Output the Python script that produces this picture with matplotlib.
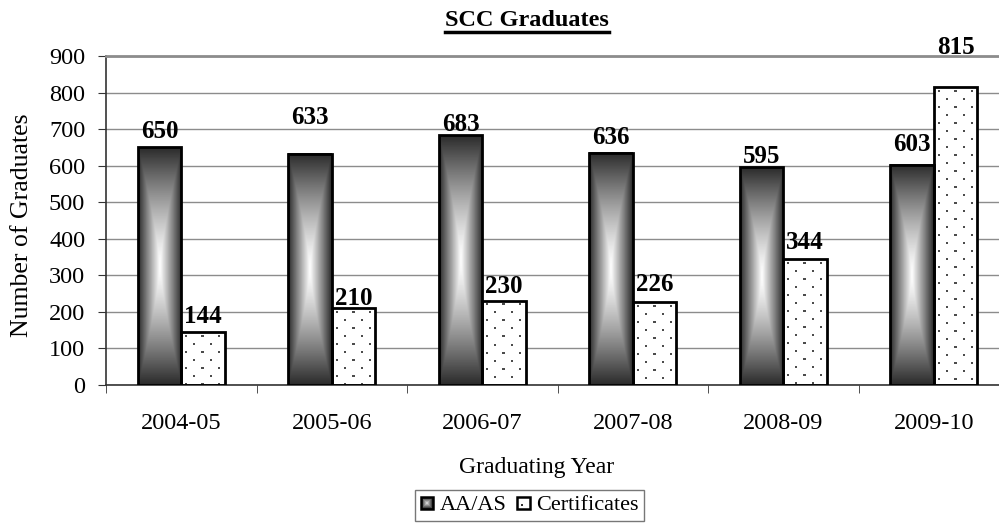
import numpy as np
import matplotlib
matplotlib.use('Agg')
import matplotlib.pyplot as plt
from matplotlib.patches import Rectangle
from matplotlib.lines import Line2D
from matplotlib.legend_handler import HandlerBase

years = ['2004-05', '2005-06', '2006-07', '2007-08', '2008-09', '2009-10']
aa_as = [650, 633, 683, 636, 595, 603]
certificates = [144, 210, 230, 226, 344, 815]

# gap (pixels) between each value label and its bar, as laid out in the original
aa_gap = [9, 30, 4, 9, 4, 14]
cert_gap = [9, 3, 8, 11, 10, 33]

plt.rcParams['font.family'] = ['Liberation Serif', 'DejaVu Serif']

W, H = 999, 529
fig = plt.figure(figsize=(W / 100, H / 100), dpi=100)
# plot area runs past the right edge, as in the original
left, bottom, top = 106, 385, 56
group = 150.5
ax = fig.add_axes([left / W, 1 - bottom / H, 6 * group / W, (bottom - top) / H])
px_x = group              # pixels per x unit
px_y = (bottom - top) / 900.0

x = np.arange(len(years))
bw = 0.289


def box_gradient():
    gy, gx = np.mgrid[-1:1:300j, -1:1:80j]
    v = np.maximum(np.abs(gx), np.abs(gy) ** 1.3)
    return 1 - v


def dot_texture(wp, hp):
    tex = np.ones((hp, wp))
    for r, yy in enumerate(range(3, hp - 1, 8)):
        start = 4 if r % 2 == 0 else 12
        for xx in range(start, wp - 1, 16):
            tex[yy:yy + 2, xx:xx + 2] = 0.3
    return tex


grad = box_gradient()
for i, v in enumerate(aa_as):
    x0 = x[i] - bw
    ax.imshow(grad, cmap='gray', vmin=-0.2, vmax=1.0, aspect='auto',
              extent=[x0, x0 + bw, 0, v], zorder=2, interpolation='bilinear')
ax.bar(x - bw / 2, aa_as, bw, facecolor='none', edgecolor='black', linewidth=2, zorder=3)

for i, v in enumerate(certificates):
    wp = int(round(bw * px_x))
    hp = int(round(v * px_y))
    ax.imshow(dot_texture(wp, hp), cmap='gray', vmin=0, vmax=1, aspect='auto',
              extent=[x[i], x[i] + bw, 0, v], zorder=2, interpolation='nearest')
ax.bar(x + bw / 2, certificates, bw, facecolor='none', edgecolor='black', linewidth=2, zorder=3)

for i in range(len(years)):
    ax.annotate(str(aa_as[i]), (x[i] - bw / 2, aa_as[i]), xytext=(0, aa_gap[i]),
                textcoords='offset pixels', ha='center', va='baseline',
                fontsize=18, fontweight='bold', zorder=4)
    ax.annotate(str(certificates[i]), (x[i] + bw / 2, certificates[i]), xytext=(0, cert_gap[i]),
                textcoords='offset pixels', ha='center', va='baseline',
                fontsize=18, fontweight='bold', zorder=4)

ax.set_xlim(-0.5, 5.5)
ax.set_ylim(0, 900)
ax.set_yticks(range(0, 901, 100))
ax.yaxis.grid(True, color='#8c8c8c', linewidth=1)
ax.set_axisbelow(True)
ax.set_xticks(x)
ax.set_xticklabels(years)
ax.set_xticks(np.arange(-0.5, 6, 1), minor=True)
ax.tick_params(axis='x', which='major', length=0, pad=20, labelsize=17.5)
ax.tick_params(axis='x', which='minor', length=6, direction='out', color='#333333')
ax.tick_params(axis='y', length=6, direction='out', labelsize=17.5, pad=9, color='#333333')
ax.spines['top'].set_color('#8c8c8c')
ax.spines['top'].set_linewidth(2)
ax.spines['right'].set_visible(False)
for s in ('left', 'bottom'):
    ax.spines[s].set_color('#333333')
    ax.spines[s].set_linewidth(1.2)

fig.text(22 / W, 1 - 225 / H, 'Number of Graduates', rotation=90, ha='center', va='center',
         fontsize=18.5)
fig.text(537 / W, 1 - 468 / H, 'Graduating Year', ha='center', va='center', fontsize=17)

title = fig.text(527 / W, 1 - 20 / H, 'SCC Graduates', ha='center', va='center', fontsize=17.5,
                 fontweight='bold')
fig.canvas.draw()
bb = title.get_window_extent()
uy = bb.y0 - 1
fig.add_artist(Line2D([bb.x0 / W, bb.x1 / W], [uy / H, uy / H], color='black', linewidth=2.5))


class GradientBox(HandlerBase):
    def create_artists(self, legend, orig, xd, yd, width, height, fontsize, trans):
        s = min(width, height)
        x0 = -xd
        y0 = -yd
        arts = []
        steps = 6
        for k in range(steps):
            f = k / steps
            g = 0.15 + 0.8 * f
            inset = s * f / 2
            arts.append(Rectangle((x0 + inset, y0 + inset), s - 2 * inset, s - 2 * inset,
                                  facecolor=(g, g, g), edgecolor='none', transform=trans))
        arts.append(Rectangle((x0, y0), s, s, facecolor='none', edgecolor='black',
                              linewidth=1.8, transform=trans))
        return arts


class DotBox(HandlerBase):
    def create_artists(self, legend, orig, xd, yd, width, height, fontsize, trans):
        s = min(width, height)
        x0 = -xd
        y0 = -yd
        box = Rectangle((x0, y0), s, s, facecolor='white', edgecolor='black',
                        linewidth=1.8, transform=trans)
        dot = Rectangle((x0 + s * 0.3, y0 + s * 0.25), s * 0.14, s * 0.14,
                        facecolor='#333333', edgecolor='none', transform=trans)
        return [box, dot]


h_aa = Rectangle((0, 0), 1, 1)
h_ce = Rectangle((0, 0), 1, 1)
fig.legend([h_aa, h_ce], ['AA/AS', 'Certificates'], handler_map={h_aa: GradientBox(), h_ce: DotBox()},
           loc='upper left', bbox_to_anchor=(415 / W, 1 - 490 / H), ncol=2,
           fontsize=16, frameon=True, fancybox=False, edgecolor='#555555', handlelength=0.55,
           handleheight=0.55, handletextpad=0.3, columnspacing=0.5, borderpad=0.25,
           borderaxespad=0)

fig.savefig('out.png', dpi=100)
